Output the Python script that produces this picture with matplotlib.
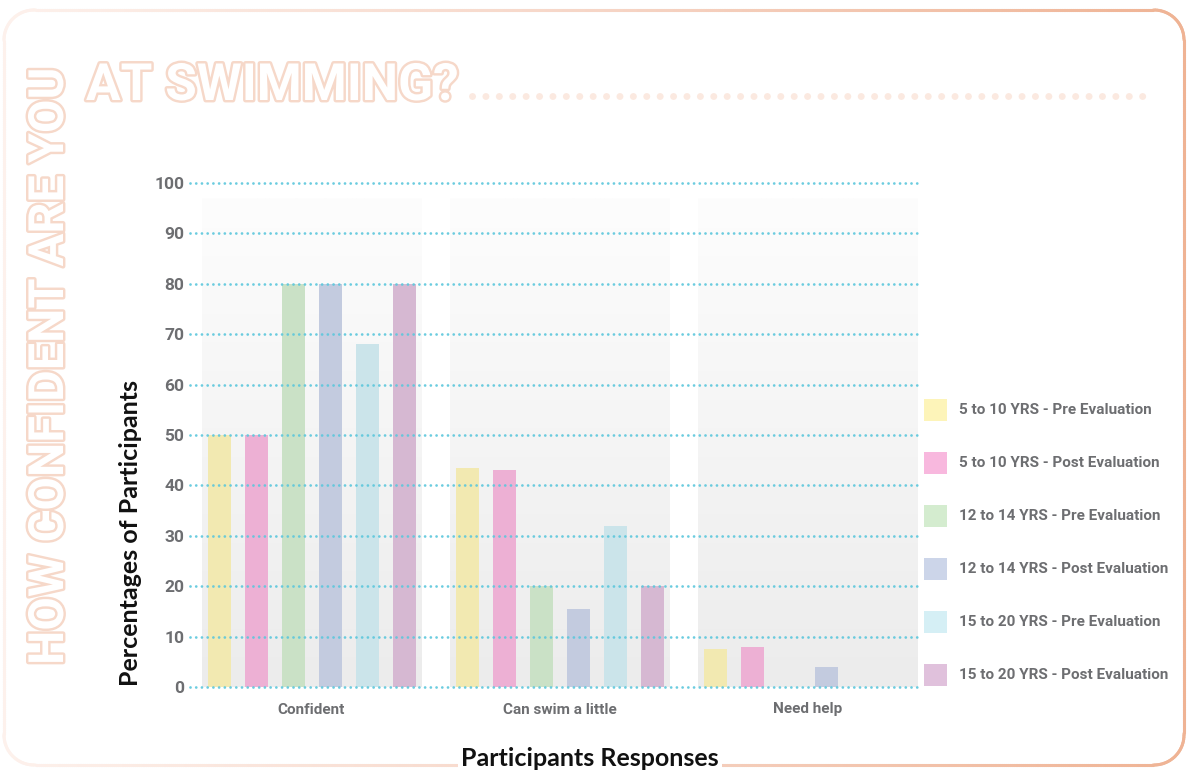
import matplotlib
matplotlib.use("Agg")
import matplotlib.pyplot as plt
import matplotlib.patheffects as pe
import numpy as np
from matplotlib.patches import Rectangle
from matplotlib.collections import LineCollection
from matplotlib.colors import LinearSegmentedColormap, to_rgb
from matplotlib.lines import Line2D
from matplotlib.transforms import IdentityTransform

# ---- data -------------------------------------------------------------
categories = ["Confident", "Can swim a little", "Need help"]
series_labels = [
    "5 to 10 YRS - Pre Evaluation",
    "5 to 10 YRS - Post Evaluation",
    "12 to 14 YRS - Pre Evaluation",
    "12 to 14 YRS - Post Evaluation",
    "15 to 20 YRS - Pre Evaluation",
    "15 to 20 YRS - Post Evaluation",
]
age_5_10_pre = [50, 43.5, 7.5]
age_5_10_post = [50, 43, 8]
age_12_14_pre = [80, 20, 0]
age_12_14_post = [80, 15.5, 4]
age_15_20_pre = [68, 32, 0]
age_15_20_post = [80, 20, 0]
series_values = [age_5_10_pre, age_5_10_post, age_12_14_pre,
                 age_12_14_post, age_15_20_pre, age_15_20_post]
yticks = list(range(0, 101, 10))
series_colors = ["#fdf4b9", "#f8b8de", "#d4eccf", "#ccd5e9", "#d5eff5", "#e0c1dc"]

# ---- styling ----------------------------------------------------------
NARROW = ["Roboto", "DejaVu Sans"]
HUMANIST = ["Lato", "DejaVu Sans"]
GREY = "#6d6e71"
PEACH = "#f6d8c9"
GRID = "#5cc7dc"

W, H = 1187, 772
fig = plt.figure(figsize=(W / 100, H / 100), dpi=100)
fig.patch.set_facecolor("white")


def fx(px):
    return px / W


def fy(py):
    return 1 - py / H


# plot area
ax = fig.add_axes([fx(190), fy(690), 727 / W, 510 / H])
ax.set_xlim(-0.49, 2.4415)
ax.set_ylim(-0.6, 100.6)
for s in ax.spines.values():
    s.set_visible(False)

group_x = np.arange(len(categories))
n_series = len(series_values)
step = 0.1492
bar_w = 0.0927

# soft grey gradient panel behind each group
panel_cmap = LinearSegmentedColormap.from_list("panel", ["#ececec", "#fdfdfd"])
grad = np.linspace(0, 1, 256).reshape(-1, 1)
for gx in group_x:
    ax.imshow(grad, cmap=panel_cmap, origin="lower", aspect="auto",
              extent=(gx - 0.4435, gx + 0.4435, 0, 97), zorder=0)

# bars
for i, (vals, col) in enumerate(zip(series_values, series_colors)):
    bar_col = tuple(c * 0.955 for c in to_rgb(col))
    ax.bar(group_x + (i - (n_series - 1) / 2) * step, vals, width=bar_w,
           color=bar_col, zorder=2)

# dotted grid lines drawn over the bars
for y in yticks:
    ax.axhline(y, color=GRID, lw=2.0, linestyle=(0, (0.01, 2.05)),
               dash_capstyle="round", zorder=4, clip_on=False, alpha=0.9)

ax.set_yticks(yticks)
ax.set_yticklabels([str(t) for t in yticks], family=NARROW, weight="bold",
                   fontsize=12.5, color=GREY)
ax.set_xticks(group_x)
ax.set_xticklabels(categories, family=NARROW, weight="bold",
                   fontsize=11, color=GREY)
ax.tick_params(axis="y", length=0, pad=4)
ax.tick_params(axis="x", length=0, pad=9)

fig.text(fx(131), fy(533), "Percentages of Participants", rotation=90,
         ha="center", va="center", family=HUMANIST, weight="bold",
         fontsize=18, color="#111111")
fig.text(fx(590), fy(758), "Participants Responses", ha="center",
         va="center", family=HUMANIST, weight="bold", fontsize=18,
         color="#111111", zorder=6,
         bbox=dict(facecolor="white", edgecolor="none", pad=2))

# legend
for i, (lab, col) in enumerate(zip(series_labels, series_colors)):
    yc = 410 + 53 * i
    fig.patches.append(Rectangle((fx(924), fy(yc + 11)), 23 / W, 22 / H,
                                 transform=fig.transFigure, facecolor=col,
                                 edgecolor="none"))
    fig.text(fx(959), fy(yc), lab, ha="left", va="center", family=NARROW,
             weight="bold", fontsize=11, color=GREY)

# outlined headline
outline = [pe.Stroke(linewidth=3.5, foreground=PEACH), pe.Normal()]
fig.text(fx(50), fy(665), "HOW CONFIDENT ARE YOU", rotation=90,
         ha="center", va="bottom", family=NARROW, weight="bold",
         fontsize=35, color="white", path_effects=outline)
head = fig.text(fx(86), fy(100), "AT SWIMMING?", ha="left", va="baseline",
                family=NARROW, weight="bold", fontsize=37, color="white",
                path_effects=outline)

fig.canvas.draw()
bb = head.get_window_extent()
dots = Line2D([bb.x1 + 14, 1155], [H - 96, H - 96], transform=IdentityTransform(),
              color="#fbe9e0", lw=5, linestyle=(0, (0.01, 1.92)),
              dash_capstyle="round")
fig.lines.append(dots)

# rounded frame, fading in from the left
def rounded_frame(x0, y0, x1, y1, r, n=2000):
    pts = []
    corners = [((x1 - r, y1 - r), 0, 90), ((x0 + r, y1 - r), 90, 180),
               ((x0 + r, y0 + r), 180, 270), ((x1 - r, y0 + r), 270, 360)]
    for (cx, cy), a0, a1 in corners:
        a = np.radians(np.linspace(a0, a1, 40))
        pts.extend(zip(cx + r * np.cos(a), cy + r * np.sin(a)))
    pts.append(pts[0])
    pts = np.array(pts)
    seg_len = np.hypot(*np.diff(pts, axis=0).T)
    s = np.concatenate([[0], np.cumsum(seg_len)])
    t = np.linspace(0, s[-1], n)
    return np.column_stack([np.interp(t, s, pts[:, 0]), np.interp(t, s, pts[:, 1])])


fp = rounded_frame(4, H - 765, 1184, H - 10, 30)
segs = np.stack([fp[:-1], fp[1:]], axis=1)
frame_cmap = LinearSegmentedColormap.from_list("frame", ["#fdf1ec", "#f6d5c6", "#efb394"])
xm = segs[:, :, 0].mean(axis=1)
lc = LineCollection(segs, colors=frame_cmap((xm - 4) / 1180), linewidths=2.2,
                    transform=IdentityTransform(), capstyle="round", zorder=5)
fig.add_artist(lc)

fig.savefig("out.png", dpi=100, facecolor="white")
